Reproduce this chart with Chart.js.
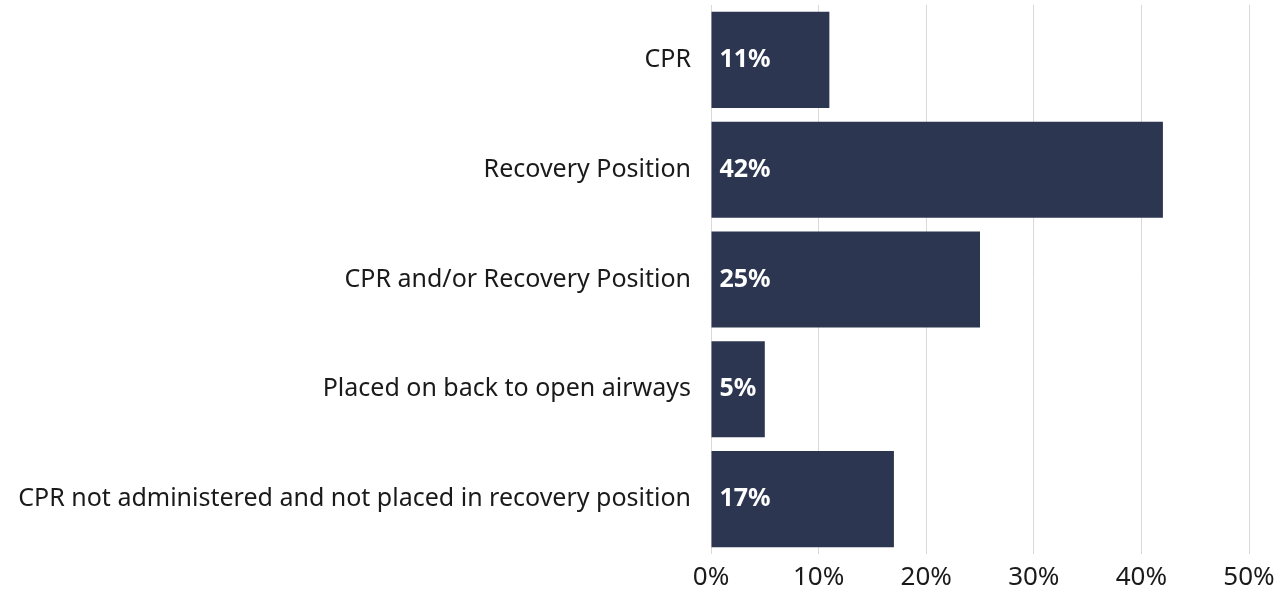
<!DOCTYPE html>
<html>
<head>
<meta charset="utf-8">
<script src="https://cdn.jsdelivr.net/npm/chart.js@4.4.1/dist/chart.umd.min.js"></script>
<style>
  html, body { margin: 0; padding: 0; background: #fff; }
  #wrap { width: 1287px; height: 591px; }
</style>
</head>
<body>
<div id="wrap"><canvas id="myChart"></canvas></div>
<script>
// chart data
var categories = ["CPR", "Recovery Position", "CPR and/or Recovery Position", "Placed on back to open airways", "CPR not administered and not placed in recovery position"];
var values = [11, 42, 25, 5, 17];
var xTicks = [0, 10, 20, 30, 40, 50];

var barColor = "#2d3651";
var fontName = "'Noto Sans', sans-serif";

// labels drawn inside the bar, at its start
var insideLabels = {
    id: "insideLabels",
    afterDatasetsDraw: function(chart) {
        var ctx = chart.ctx;
        var meta = chart.getDatasetMeta(0);
        ctx.save();
        ctx.fillStyle = "#ffffff";
        ctx.font = "bold 25px " + fontName;
        ctx.textAlign = "left";
        ctx.textBaseline = "middle";
        meta.data.forEach(function(bar, i) {
            ctx.fillText(values[i] + "%", bar.base + 8, bar.y);
        });
        ctx.restore();
    }
};

new Chart("myChart", {
    type: "bar",
    data: {
        labels: categories,
        datasets: [{
            data: values,
            backgroundColor: barColor,
            barPercentage: 0.875,
            categoryPercentage: 1
        }]
    },
    options: {
        indexAxis: "y",
        responsive: true,
        maintainAspectRatio: false,
        animation: false,
        layout: { padding: { top: 5, right: 38, bottom: 0, left: 0 } },
        plugins: {
            legend: { display: false },
            tooltip: { enabled: false }
        },
        scales: {
            x: {
                min: 0,
                max: 50,
                afterBuildTicks: function(axis) {
                    axis.ticks = xTicks.map(function(v) { return { value: v }; });
                },
                afterFit: function(axis) {
                    axis.height = 37;
                    axis.paddingLeft = 0;
                    axis.paddingRight = 0;
                },
                grid: { color: "#d9d9d9", lineWidth: 1, drawTicks: false },
                border: { display: false },
                ticks: {
                    padding: 8,
                    color: "#1a1a1a",
                    font: { family: fontName, size: 26 },
                    callback: function(v) { return v + "%"; }
                }
            },
            y: {
                afterFit: function(axis) {
                    axis.width = 711;
                    axis.paddingTop = 0;
                    axis.paddingBottom = 0;
                },
                grid: { display: false, drawTicks: false },
                border: { display: false },
                ticks: {
                    padding: 20,
                    color: "#1a1a1a",
                    font: { family: fontName, size: 25 }
                }
            }
        }
    },
    plugins: [insideLabels]
});
</script>
</body>
</html>
